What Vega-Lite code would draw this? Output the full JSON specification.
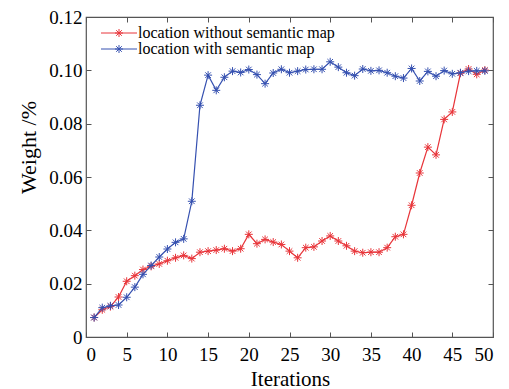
{
  "$schema": "https://vega.github.io/schema/vega-lite/v6.json",
  "width": 407,
  "height": 320,
  "autosize": {"type": "none"},
  "padding": {"left": 86, "top": 17, "right": 16, "bottom": 52},
  "background": "white",
  "config": {
    "view": {"stroke": "#555555", "strokeWidth": 1.2},
    "font": "Liberation Serif",
    "axis": {"grid": false, "domainColor": "#555555", "tickColor": "#555555", "labelColor": "black", "titleColor": "black", "labelFont": "Liberation Serif", "titleFont": "Liberation Serif", "titleFontWeight": "normal"},
    "legend": {"labelFont": "Liberation Serif"}
  },
  "datasets": {
    "d": [
      {"it": 1, "w": 0.0073, "s": "location without semantic map"},
      {"it": 2, "w": 0.0102, "s": "location without semantic map"},
      {"it": 3, "w": 0.0114, "s": "location without semantic map"},
      {"it": 4, "w": 0.015, "s": "location without semantic map"},
      {"it": 5, "w": 0.0209, "s": "location without semantic map"},
      {"it": 6, "w": 0.023, "s": "location without semantic map"},
      {"it": 7, "w": 0.0253, "s": "location without semantic map"},
      {"it": 8, "w": 0.0265, "s": "location without semantic map"},
      {"it": 9, "w": 0.0274, "s": "location without semantic map"},
      {"it": 10, "w": 0.0286, "s": "location without semantic map"},
      {"it": 11, "w": 0.0297, "s": "location without semantic map"},
      {"it": 12, "w": 0.0306, "s": "location without semantic map"},
      {"it": 13, "w": 0.0294, "s": "location without semantic map"},
      {"it": 14, "w": 0.0318, "s": "location without semantic map"},
      {"it": 15, "w": 0.0322, "s": "location without semantic map"},
      {"it": 16, "w": 0.0326, "s": "location without semantic map"},
      {"it": 17, "w": 0.0331, "s": "location without semantic map"},
      {"it": 18, "w": 0.0322, "s": "location without semantic map"},
      {"it": 19, "w": 0.0331, "s": "location without semantic map"},
      {"it": 20, "w": 0.0385, "s": "location without semantic map"},
      {"it": 21, "w": 0.035, "s": "location without semantic map"},
      {"it": 22, "w": 0.0366, "s": "location without semantic map"},
      {"it": 23, "w": 0.0356, "s": "location without semantic map"},
      {"it": 24, "w": 0.0347, "s": "location without semantic map"},
      {"it": 25, "w": 0.0322, "s": "location without semantic map"},
      {"it": 26, "w": 0.0297, "s": "location without semantic map"},
      {"it": 27, "w": 0.0335, "s": "location without semantic map"},
      {"it": 28, "w": 0.0338, "s": "location without semantic map"},
      {"it": 29, "w": 0.036, "s": "location without semantic map"},
      {"it": 30, "w": 0.0379, "s": "location without semantic map"},
      {"it": 31, "w": 0.036, "s": "location without semantic map"},
      {"it": 32, "w": 0.0342, "s": "location without semantic map"},
      {"it": 33, "w": 0.0322, "s": "location without semantic map"},
      {"it": 34, "w": 0.0316, "s": "location without semantic map"},
      {"it": 35, "w": 0.0318, "s": "location without semantic map"},
      {"it": 36, "w": 0.0318, "s": "location without semantic map"},
      {"it": 37, "w": 0.0335, "s": "location without semantic map"},
      {"it": 38, "w": 0.0376, "s": "location without semantic map"},
      {"it": 39, "w": 0.0385, "s": "location without semantic map"},
      {"it": 40, "w": 0.0494, "s": "location without semantic map"},
      {"it": 41, "w": 0.0615, "s": "location without semantic map"},
      {"it": 42, "w": 0.0712, "s": "location without semantic map"},
      {"it": 43, "w": 0.0683, "s": "location without semantic map"},
      {"it": 44, "w": 0.0816, "s": "location without semantic map"},
      {"it": 45, "w": 0.0844, "s": "location without semantic map"},
      {"it": 46, "w": 0.0989, "s": "location without semantic map"},
      {"it": 47, "w": 0.1005, "s": "location without semantic map"},
      {"it": 48, "w": 0.0985, "s": "location without semantic map"},
      {"it": 49, "w": 0.1001, "s": "location without semantic map"},
      {"it": 1, "w": 0.0073, "s": "location with semantic map"},
      {"it": 2, "w": 0.011, "s": "location with semantic map"},
      {"it": 3, "w": 0.0117, "s": "location with semantic map"},
      {"it": 4, "w": 0.012, "s": "location with semantic map"},
      {"it": 5, "w": 0.0149, "s": "location with semantic map"},
      {"it": 6, "w": 0.0187, "s": "location with semantic map"},
      {"it": 7, "w": 0.0235, "s": "location with semantic map"},
      {"it": 8, "w": 0.0268, "s": "location with semantic map"},
      {"it": 9, "w": 0.03, "s": "location with semantic map"},
      {"it": 10, "w": 0.033, "s": "location with semantic map"},
      {"it": 11, "w": 0.0355, "s": "location with semantic map"},
      {"it": 12, "w": 0.0368, "s": "location with semantic map"},
      {"it": 13, "w": 0.0509, "s": "location with semantic map"},
      {"it": 14, "w": 0.0869, "s": "location with semantic map"},
      {"it": 15, "w": 0.0982, "s": "location with semantic map"},
      {"it": 16, "w": 0.0925, "s": "location with semantic map"},
      {"it": 17, "w": 0.0974, "s": "location with semantic map"},
      {"it": 18, "w": 0.0997, "s": "location with semantic map"},
      {"it": 19, "w": 0.0992, "s": "location with semantic map"},
      {"it": 20, "w": 0.1003, "s": "location with semantic map"},
      {"it": 21, "w": 0.0984, "s": "location with semantic map"},
      {"it": 22, "w": 0.095, "s": "location with semantic map"},
      {"it": 23, "w": 0.099, "s": "location with semantic map"},
      {"it": 24, "w": 0.1004, "s": "location with semantic map"},
      {"it": 25, "w": 0.0991, "s": "location with semantic map"},
      {"it": 26, "w": 0.0997, "s": "location with semantic map"},
      {"it": 27, "w": 0.1003, "s": "location with semantic map"},
      {"it": 28, "w": 0.1004, "s": "location with semantic map"},
      {"it": 29, "w": 0.1004, "s": "location with semantic map"},
      {"it": 30, "w": 0.1032, "s": "location with semantic map"},
      {"it": 31, "w": 0.1012, "s": "location with semantic map"},
      {"it": 32, "w": 0.0991, "s": "location with semantic map"},
      {"it": 33, "w": 0.098, "s": "location with semantic map"},
      {"it": 34, "w": 0.1005, "s": "location with semantic map"},
      {"it": 35, "w": 0.0998, "s": "location with semantic map"},
      {"it": 36, "w": 0.1, "s": "location with semantic map"},
      {"it": 37, "w": 0.0991, "s": "location with semantic map"},
      {"it": 38, "w": 0.0978, "s": "location with semantic map"},
      {"it": 39, "w": 0.0971, "s": "location with semantic map"},
      {"it": 40, "w": 0.1007, "s": "location with semantic map"},
      {"it": 41, "w": 0.096, "s": "location with semantic map"},
      {"it": 42, "w": 0.0996, "s": "location with semantic map"},
      {"it": 43, "w": 0.0978, "s": "location with semantic map"},
      {"it": 44, "w": 0.0999, "s": "location with semantic map"},
      {"it": 45, "w": 0.0987, "s": "location with semantic map"},
      {"it": 46, "w": 0.0991, "s": "location with semantic map"},
      {"it": 47, "w": 0.0997, "s": "location with semantic map"},
      {"it": 48, "w": 0.0998, "s": "location with semantic map"},
      {"it": 49, "w": 0.0998, "s": "location with semantic map"}
    ]
  },
  "data": {"name": "d"},
  "resolve": {"axis": {"x": "independent", "y": "independent"}},
  "layer": [
    {
      "transform": [{"filter": "datum.s == 'location without semantic map'"}],
      "mark": {"type": "line", "strokeWidth": 1.2, "point": {"filled": false, "shape": "M0,-1L0,1M-1,0L1,0M-0.7,-0.7L0.7,0.7M-0.7,0.7L0.7,-0.7", "size": 64, "strokeWidth": 1}},
      "encoding": {
        "x": {"field": "it", "type": "quantitative", "scale": {"domain": [0, 50], "nice": false}, "axis": {"values": [0, 5, 10, 15, 20, 25, 30, 35, 40, 45, 50], "tickSize": -5, "labelPadding": 13, "labelFont": "Liberation Serif", "labelFontSize": 19, "title": "Iterations", "titleFontSize": 21, "titleX": 204, "titleY": 42, "titleBaseline": "middle", "titleAlign": "center", "domain": false}},
        "y": {"field": "w", "type": "quantitative", "scale": {"domain": [0, 0.12], "nice": false}, "axis": {"values": [0, 0.02, 0.04, 0.06, 0.08, 0.1, 0.12], "labelExpr": "datum.value == 0 ? '0' : format(datum.value, '.2f')", "tickSize": -5, "labelPadding": 9, "labelFont": "Liberation Serif", "labelFontSize": 19, "title": "Weight /%", "titleFontSize": 22, "titleX": -58, "titleY": 130, "titleBaseline": "middle", "titleAlign": "center", "titleAngle": 270, "domain": false}},
        "color": {"field": "s", "type": "nominal", "scale": {"domain": ["location without semantic map", "location with semantic map"], "range": ["#e8353a", "#3550b0"]},
          "legend": {"title": null, "orient": "none", "legendX": 25, "legendY": 8, "symbolType": "M-4.5,0L4.5,0M0,-1L0,1M-1,0L1,0M-0.7,-0.7L0.7,0.7M-0.7,0.7L0.7,-0.7", "symbolSize": 64, "symbolStrokeWidth": 1, "symbolFillColor": "transparent", "labelFontSize": 16, "labelColor": "black", "labelOffset": 11, "labelLimit": 400, "rowPadding": 0}}
      }
    },
    {
      "transform": [{"filter": "datum.s == 'location with semantic map'"}],
      "mark": {"type": "line", "strokeWidth": 1.2, "point": {"filled": false, "shape": "M0,-1L0,1M-1,0L1,0M-0.7,-0.7L0.7,0.7M-0.7,0.7L0.7,-0.7", "size": 64, "strokeWidth": 1}},
      "encoding": {
        "x": {"field": "it", "type": "quantitative", "axis": {"orient": "top", "values": [0, 5, 10, 15, 20, 25, 30, 35, 40, 45, 50], "tickSize": -5, "labels": false, "title": null, "domain": false}},
        "y": {"field": "w", "type": "quantitative", "axis": {"orient": "right", "values": [0, 0.02, 0.04, 0.06, 0.08, 0.1, 0.12], "tickSize": -5, "labels": false, "title": null, "domain": false}},
        "color": {"field": "s", "type": "nominal"}
      }
    }
  ]
}
